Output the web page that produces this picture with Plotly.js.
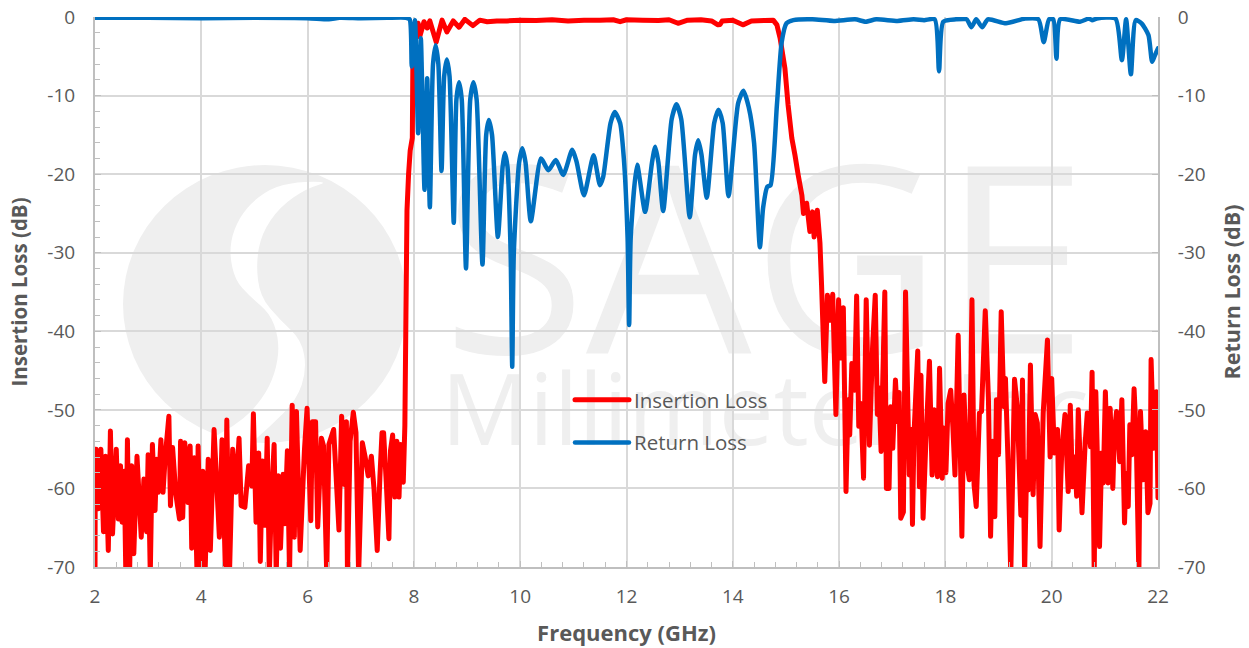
<!DOCTYPE html>
<html>
<head>
<meta charset="utf-8">
<script src="https://cdn.plot.ly/plotly-3.0.1.min.js"></script>
<style>html,body{margin:0;padding:0;background:#fff}#chart{width:1249px;height:648px}
.js-line{stroke-linejoin:round!important;stroke-linecap:round!important}</style>
</head>
<body>
<div id="chart"></div>
<script>
const insertionFreq = [2,2.005,2.02,2.06,2.11,2.16,2.2,2.25,2.29,2.33,2.4,2.44,2.48,2.51,2.55,2.58,2.61,2.65,2.69,2.73,2.79,2.87,2.92,2.97,3,3.04,3.08,3.13,3.16,3.19,3.24,3.28,3.32,3.39,3.42,3.46,3.52,3.59,3.61,3.65,3.69,3.75,3.79,3.82,3.87,3.92,3.94,3.99,4.03,4.07,4.13,4.17,4.24,4.34,4.39,4.45,4.48,4.53,4.59,4.65,4.71,4.75,4.82,4.89,4.95,4.98,5.03,5.08,5.11,5.15,5.2,5.24,5.28,5.32,5.37,5.41,5.45,5.49,5.54,5.57,5.62,5.66,5.71,5.75,5.79,5.86,5.94,5.99,6.06,6.09,6.15,6.19,6.26,6.3,6.36,6.4,6.49,6.59,6.64,6.69,6.73,6.75,6.8,6.86,6.91,6.96,7.03,7.08,7.14,7.2,7.25,7.31,7.36,7.4,7.43,7.48,7.53,7.56,7.6,7.64,7.68,7.72,7.75,7.8,
7.83,7.85,7.87,7.9,7.93,7.97,7.98,8.02,8.08,8.11,8.19,8.25,8.3,8.42,8.53,8.62,8.74,8.85,8.96,9.11,9.24,9.38,9.56,9.75,10,10.3,10.6,10.9,11.2,11.5,11.75,11.88,12,12.3,12.6,12.8,12.97,13.15,13.4,13.6,13.72,13.76,13.8,14,14.19,14.35,14.6,14.76,14.83,14.89,14.98,15.04,15.11,15.17,15.23,15.3,15.33,15.39,15.45,15.5,15.53,15.59,15.64,15.67,15.73,15.78,15.83,15.88,15.94,15.99,16.03,16.08,16.13,16.17,16.2,16.24,16.29,16.33,16.37,16.41,16.46,16.51,16.57,16.63,16.68,16.72,16.75,16.79,16.86,16.89,16.94,16.97,17.01,17.06,17.1,17.13,17.16,17.21,17.25,17.32,17.36,17.38,17.41,17.48,17.51,17.54,17.58,17.63,17.7,17.75,17.79,17.85,17.89,17.94,17.97,18.01,18.05,18.1,18.14,18.18,18.24,18.31,18.35,18.4,18.45,18.5,18.54,18.58,18.64,18.68,18.75,18.81,18.85,18.89,18.93,18.96,19,19.05,19.1,19.13,19.18,19.23,19.3,19.35,19.42,19.45,19.49,19.53,19.56,19.6,19.65,19.69,19.73,19.78,19.84,19.92,19.97,20,20.05,20.11,20.14,20.19,20.25,20.31,20.35,20.39,20.43,20.47,20.5,20.57,20.63,20.67,20.73,20.76,20.8,20.83,20.9,20.94,20.97,21.01,21.06,21.1,21.15,21.18,21.22,21.28,21.32,21.37,21.4,21.44,21.47,21.51,21.55,21.59,21.64,21.67,21.72,21.77,21.81,21.85,21.87,21.92,21.97,22];
const insertionLoss = [-72,-55,-55,-62.6,-55,-65.5,-55.9,-67.9,-52.7,-65.8,-55,-63.9,-57.1,-64.3,-57.8,-71,-53.8,-71,-57.1,-68.3,-55.9,-66.2,-58.8,-65.5,-55.7,-71,-54.4,-62.8,-56.3,-60.5,-53.8,-60.5,-56.1,-50.8,-62.2,-54.8,-60.7,-63.9,-54,-63.7,-54.2,-61.8,-54.6,-67.6,-56.1,-71,-54.6,-71,-57.8,-71,-56.3,-67.9,-52.5,-66.2,-53.8,-69.7,-51.3,-71,-55,-60.5,-53.6,-62.2,-62.4,-57.1,-59.7,-50.5,-64.3,-55.5,-69.3,-56.5,-64.7,-53.6,-71,-61.3,-54.4,-71,-58.4,-67.6,-58.2,-64.5,-55.2,-71,-49.4,-66.2,-50.2,-67.9,-55.2,-49.8,-64.1,-51.5,-51.5,-64.9,-53.6,-54.6,-71,-54.4,-52.5,-65.3,-50.8,-59.5,-51.5,-71,-54,-50.3,-52.9,-71,-54.2,-55.9,-58.4,-55.9,-60.1,-67.9,-58.6,-52.9,-52.9,-59.2,-66.4,-55.2,-53.2,-61.1,-54,-61.1,-54.4,-59.2,
-52,-38,-24.6,-20,-17,-15.4,-6.5,-3,-0.8,-2.5,-0.6,-1.4,-0.5,-3.2,-0.4,-1.9,-0.5,-1.3,-0.3,-1.1,-0.4,-0.6,-0.5,-0.5,-0.4,-0.45,-0.35,-0.5,-0.4,-0.4,-0.35,-0.6,-0.35,-0.4,-0.45,-0.35,-0.8,-0.4,-0.35,-0.5,-1,-0.95,-0.5,-0.4,-1,-0.5,-0.45,-0.4,-1,-2.7,-6.5,-11.2,-15.4,-17.6,-20.1,-22.7,-25,-23.7,-27.3,-24.8,-28,-24.6,-28.8,-34.1,-46.4,-35.4,-38.6,-35.3,-50.6,-36,-43.4,-37,-60.4,-48.7,-53.2,-44.1,-47.5,-35.5,-52.1,-49.2,-58.7,-36,-54.5,-42,-35.4,-50.6,-47.2,-55.3,-35,-60,-60,-49.6,-54.9,-46.2,-51.5,-47.8,-63.8,-63,-35,-58.3,-52.5,-64.6,-53,-42.5,-59.8,-45.6,-63.8,-54.5,-43.8,-58.3,-50,-58.5,-44.7,-58.7,-52.3,-58,-49.2,-47.5,-52.1,-58.3,-40.5,-66.1,-48.1,-56.6,-58.9,-36,-59.6,-62.3,-50.4,-50.2,-37.4,-48.7,-66.1,-54,-63.6,-48.7,-55.7,-37.5,-49.6,-46,-57,-71,-46.1,-49.4,-63.4,-46.2,-71,-56.6,-60.2,-44.3,-60.8,-50.6,-51.7,-67.4,-50.4,-41.1,-56,-46,-55.5,-52.5,-65.3,-55.1,-50.6,-60.4,-49.4,-59.8,-56,-61,-50,-63.1,-54.2,-50.4,-54.7,-45.2,-71,-47.7,-67.4,-55.5,-59.3,-47.7,-59.3,-49.8,-60,-52.8,-50.2,-56.6,-48.7,-64.4,-58.1,-62.3,-51.9,-55.7,-47.3,-53.4,-71,-50.2,-58.9,-52.8,-63.1,-61.9,-43.6,-54.9,-47.7,-61.2];

const returnFreq = [2,3,4,5,6,6.4,6.6,7,7.5,7.85,7.92,7.96,8.02,8.08,8.13,8.2,8.25,8.3,8.36,8.41,8.46,8.52,8.57,8.62,8.67,8.75,8.8,8.85,8.9,8.98,9.06,9.12,9.18,9.29,9.36,9.41,9.47,9.58,9.67,9.71,9.76,9.82,9.85,9.88,9.98,10.04,10.1,10.2,10.39,10.53,10.67,10.81,10.98,11.06,11.2,11.38,11.5,11.56,11.7,11.78,11.88,11.95,12.02,12.05,12.08,12.2,12.35,12.48,12.54,12.6,12.69,12.85,12.94,13.03,13.19,13.29,13.35,13.41,13.51,13.65,13.73,13.81,13.92,14.1,14.2,14.3,14.4,14.51,14.57,14.65,14.71,14.83,14.92,15.01,15.14,15.5,15.9,16.3,16.5,16.7,17.1,17.4,17.6,17.8,17.88,17.96,18.2,18.4,18.49,18.58,18.69,18.8,19.14,19.5,19.75,19.85,19.95,20.03,20.09,20.16,20.53,20.7,20.76,20.85,21.2,21.32,21.4,21.49,21.58,21.69,21.82,21.89,21.94,22];
const returnLoss = [-0.1,-0.1,-0.15,-0.1,-0.15,-0.3,-0.1,-0.15,-0.1,-0.1,-0.3,-6.3,-0.4,-14.8,-2.7,-22,-7.8,-24.2,-6,-3.6,-6,-19.6,-7.5,-5.4,-7.5,-26.2,-10.5,-8.3,-10.5,-32,-10.5,-8.3,-10.5,-31.5,-15,-13.1,-15,-28,-19,-17.3,-19,-30,-44.5,-30,-18.5,-16.7,-18.5,-26,-18,-19.5,-18.2,-20.1,-16.9,-18.4,-22.7,-17.6,-21.4,-20.4,-13.5,-12.1,-13.5,-18,-28,-39.2,-28,-18.8,-24.8,-18.5,-16.5,-18.5,-24.7,-13,-11.1,-13,-25.5,-17.5,-15.7,-17.5,-23,-13.5,-11.8,-13.5,-22.8,-11,-9.4,-11.5,-16,-29.3,-24.3,-21.6,-21.4,-11.2,-3.2,-0.8,-0.4,-0.3,-0.5,-0.3,-0.6,-0.3,-0.5,-0.3,-0.4,-0.3,-6.9,-0.6,-0.3,-0.3,-1.3,-0.3,-1.3,-0.3,-0.8,-0.2,-0.3,-3.2,-0.3,-0.3,-5.3,-0.3,-0.6,-0.2,-0.4,-0.2,-0.2,-5.5,-0.3,-7.3,-0.4,-0.8,-2.3,-5.7,-4.9,-4];

const freqTicks = [2,4,6,8,10,12,14,16,18,20,22];
const dbTicks = [0,-10,-20,-30,-40,-50,-60,-70];

const TXT = '#595959', GRID = '#d9d9d9', AX = '#bfbfbf', WM = '#efefef', FONT = '"Open Sans", sans-serif';
const px = x => (x - 95) / 1063, py = y => 1 - (y - 17) / 550;
const zoomPt = p => [px(110 + p[0] / 3), py(150 + p[1] / 3)];
const swoosh = [[660,95],[560,95],[480,115],[410,170],[370,240],[358,310],[375,390],[420,440],[480,490],[505,560],[505,630],[480,710],[430,780],[370,830],[300,865],[400,900],[480,830],[560,750],[590,660],[575,570],[510,510],[450,440],[438,340],[455,250],[510,170],[590,115]].map(zoomPt);
const mid = (a, b) => `${(a[0] + b[0]) / 2},${(a[1] + b[1]) / 2}`;
const swooshPath = 'M' + mid(swoosh[swoosh.length - 1], swoosh[0]) + swoosh.map((p, i) => `Q${p[0]},${p[1]} ${mid(p, swoosh[(i + 1) % swoosh.length])}`).join('') + 'Z';
const shapes = [
  {type:'circle', xref:'paper', yref:'paper', layer:'below', x0:px(123), x1:px(407), y0:py(443), y1:py(165), fillcolor:WM, line:{width:0}},
  {type:'path', xref:'paper', yref:'paper', layer:'below', path:swooshPath, fillcolor:'#fff', line:{width:0}},
  {type:'rect', xref:'paper', yref:'paper', layer:'below', x0:px(445), x1:px(1085), y0:py(365), y1:py(175), fillcolor:'rgba(0,0,0,0)', line:{width:0},
    label:{text:'SAGE', textposition:'middle center', font:{family:FONT, size:262, color:WM}}},
  {type:'rect', xref:'paper', yref:'paper', layer:'below', x0:px(435), x1:px(1095), y0:py(456), y1:py(371), fillcolor:'rgba(0,0,0,0)', line:{width:0},
    label:{text:'Millimeter, Inc', textposition:'middle center', font:{family:FONT, size:98, color:WM}}}
];

const yBase = {range:[-70,0], tickmode:'array', tickvals:dbTicks, ticktext:dbTicks.map(String), showline:true, linecolor:AX, linewidth:2,
  tickfont:{family:FONT, size:19, color:TXT}, zeroline:false, ticklabelstandoff:14};

const traces = [
  {x:insertionFreq, y:insertionLoss, name:'Insertion Loss', mode:'lines', yaxis:'y', legendgroup:'a', line:{color:'#ff0000', width:5, simplify:false}},
  {x:returnFreq, y:returnLoss, name:'Return Loss', mode:'lines', yaxis:'y2', legendgroup:'b', line:{color:'#0070c0', width:4.5, shape:'spline', smoothing:0.6, simplify:false}}
];
const layout = {
  width:1249, height:648, margin:{l:95, r:91, t:17, b:81}, paper_bgcolor:'#fff', plot_bgcolor:'rgba(0,0,0,0)', shapes,
  xaxis:{range:[2,22], tickmode:'array', tickvals:freqTicks, ticktext:freqTicks.map(String), showgrid:true, gridcolor:GRID, gridwidth:2, showline:true, linecolor:AX, linewidth:2, zeroline:false,
    ticks:'inside', ticklen:6, tickcolor:AX, tickwidth:1, ticklabelstandoff:11, tickfont:{family:FONT, size:19, color:TXT},
    minor:{dtick:0.4, ticks:'inside', ticklen:5, tickcolor:AX, tickwidth:1, showgrid:false},
    title:{text:'Frequency (GHz)', standoff:18, font:{family:FONT, size:22, color:TXT, weight:'bold'}}},
  yaxis:Object.assign({}, yBase, {showgrid:true, gridcolor:GRID, gridwidth:2, ticks:'inside', ticklen:6, tickcolor:AX, tickwidth:1,
    minor:{dtick:2, ticks:'inside', ticklen:5, tickcolor:AX, tickwidth:1, showgrid:false},
    title:{text:'Insertion Loss (dB)', standoff:14, font:{family:FONT, size:20.5, color:TXT, weight:'bold'}}}),
  yaxis2:Object.assign({}, yBase, {overlaying:'y', side:'right', showgrid:false, ticks:'inside', ticklen:6, tickcolor:AX, tickwidth:1,
    title:{text:'Return Loss (dB)', standoff:20, font:{family:FONT, size:21.5, color:TXT, weight:'bold'}}}),
  legend:{x:px(570), y:py(380), xanchor:'left', yanchor:'top', bgcolor:'rgba(0,0,0,0)', itemwidth:54, traceorder:'grouped', tracegroupgap:13, font:{family:FONT, size:20.5, color:TXT}},
  showlegend:true
};
Plotly.newPlot('chart', traces, layout, {displayModeBar:false, responsive:false});
</script>
</body>
</html>
